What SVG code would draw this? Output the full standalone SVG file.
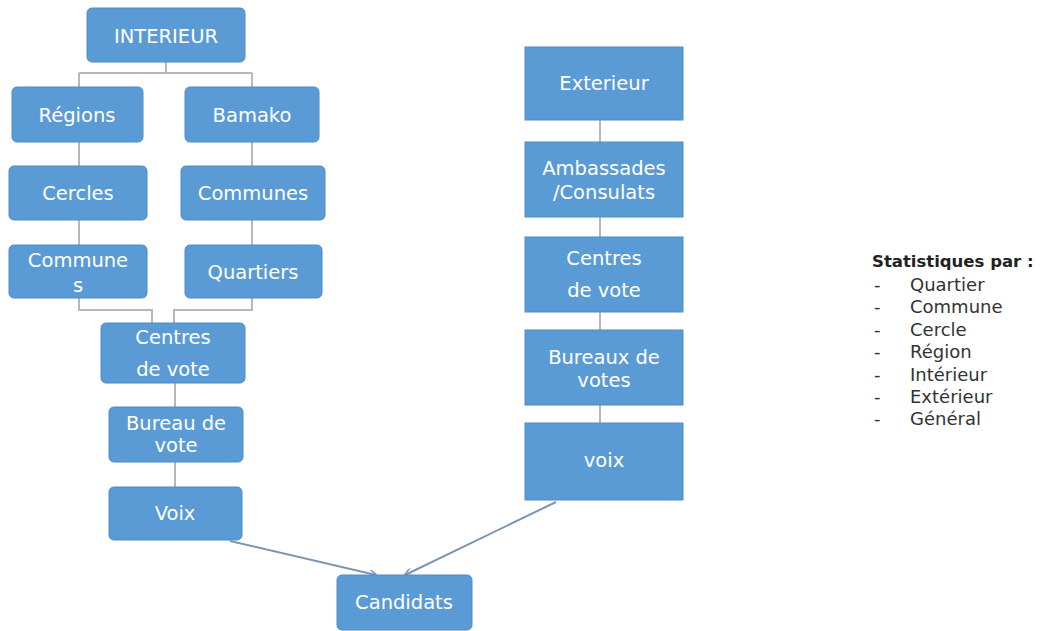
<svg xmlns="http://www.w3.org/2000/svg" width="1049" height="631" viewBox="0 0 1049 631">
<style>
.box{fill:#5b9bd5;stroke:#4f8cc4;stroke-width:1}
.t{font-family:"DejaVu Sans","Liberation Sans",sans-serif;font-size:19.5px;fill:#ffffff;text-anchor:middle}
.c{fill:none;stroke:#b8b8b8;stroke-width:2}
.a{fill:none;stroke:#7a96b2;stroke-width:2}
.lg{font-family:"DejaVu Sans","Liberation Sans",sans-serif;font-size:18px;fill:#333333}
.lh{font-family:"DejaVu Sans","Liberation Sans",sans-serif;font-size:16.5px;font-weight:bold;fill:#222222}
</style>
<defs>
<marker id="ah" markerWidth="8" markerHeight="8" refX="7" refY="4" orient="auto" markerUnits="userSpaceOnUse">
<path d="M0,0 L8,4 L0,8" fill="none" stroke="#7a96b2" stroke-width="1.5"/>
</marker>
</defs>
<rect width="1049" height="631" fill="#ffffff"/>
<g id="connectors">
<path class="c" d="M166,62 V73 M79,73 H252 M79,73 V87 M252,73 V87"/>
<path class="c" d="M79,142 V166 M79,220 V245 M252,142 V166 M252,220 V245"/>
<path class="c" d="M79,298 V310 H152 V323 M252,298 V310 H174 V323"/>
<path class="c" d="M175,383 V407 M175,462 V487"/>
<path class="c" d="M600,120 V142 M600,217 V237 M600,312 V330 M600,405 V423"/>
<path class="a" d="M230,541 L376,575" marker-end="url(#ah)"/>
<path class="a" d="M556,502 L405,575" marker-end="url(#ah)"/>
</g>
<g id="interieur"><rect class="box" x="87" y="8" width="158" height="54" rx="5"/><text class="t" x="166" y="43">INTERIEUR</text></g>
<g id="regions"><rect class="box" x="12" y="87" width="131" height="55" rx="5"/><text class="t" x="77" y="122">Régions</text></g>
<g id="bamako"><rect class="box" x="185" y="87" width="134" height="55" rx="5"/><text class="t" x="252" y="122">Bamako</text></g>
<g id="cercles"><rect class="box" x="9" y="166" width="138" height="54" rx="5"/><text class="t" x="78" y="200">Cercles</text></g>
<g id="communes-bamako"><rect class="box" x="181" y="166" width="144" height="54" rx="5"/><text class="t" x="253" y="200">Communes</text></g>
<g id="communes-regions"><rect class="box" x="9" y="245" width="138" height="53" rx="5"/><text class="t" x="78" y="267">Commune</text><text class="t" x="78" y="292">s</text></g>
<g id="quartiers"><rect class="box" x="185" y="245" width="137" height="53" rx="5"/><text class="t" x="253" y="279">Quartiers</text></g>
<g id="centres-int"><rect class="box" x="101" y="323" width="144" height="60" rx="5"/><text class="t" x="173" y="344">Centres</text><text class="t" x="173" y="376">de vote</text></g>
<g id="bureau-int"><rect class="box" x="109" y="407" width="134" height="55" rx="5"/><text class="t" x="176" y="430">Bureau de</text><text class="t" x="176" y="452">vote</text></g>
<g id="voix-int"><rect class="box" x="109" y="487" width="133" height="53" rx="5"/><text class="t" x="175" y="520">Voix</text></g>
<g id="candidats"><rect class="box" x="337" y="575" width="135" height="55" rx="5"/><text class="t" x="404" y="609">Candidats</text></g>
<g id="exterieur"><rect class="box" x="525" y="47" width="158" height="73"/><text class="t" x="604" y="90">Exterieur</text></g>
<g id="ambassades"><rect class="box" x="525" y="142" width="158" height="75"/><text class="t" x="604" y="175">Ambassades</text><text class="t" x="604" y="199">/Consulats</text></g>
<g id="centres-ext"><rect class="box" x="525" y="237" width="158" height="75"/><text class="t" x="604" y="265">Centres</text><text class="t" x="604" y="297">de vote</text></g>
<g id="bureaux-ext"><rect class="box" x="525" y="330" width="158" height="75"/><text class="t" x="604" y="364">Bureaux de</text><text class="t" x="604" y="387">votes</text></g>
<g id="voix-ext"><rect class="box" x="525" y="423" width="158" height="77"/><text class="t" x="604" y="467">voix</text></g>
<g id="legend">
<text class="lh" x="872" y="267">Statistiques par :</text>
<g class="lg">
<text x="874" y="291">-</text><text x="910" y="291">Quartier</text>
<text x="874" y="313">-</text><text x="910" y="313">Commune</text>
<text x="874" y="336">-</text><text x="910" y="336">Cercle</text>
<text x="874" y="358">-</text><text x="910" y="358">Région</text>
<text x="874" y="381">-</text><text x="910" y="381">Intérieur</text>
<text x="874" y="403">-</text><text x="910" y="403">Extérieur</text>
<text x="874" y="425">-</text><text x="910" y="425">Général</text>
</g>
</g>
</svg>
